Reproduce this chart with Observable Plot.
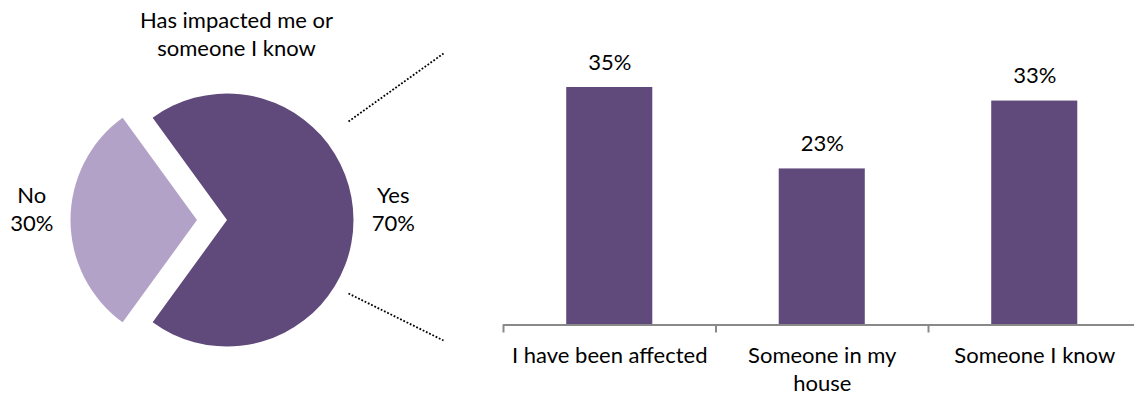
<!DOCTYPE html>
<html>
<head>
<meta charset="utf-8">
<script src="https://cdn.jsdelivr.net/npm/d3@7"></script>
<script src="https://cdn.jsdelivr.net/npm/@observablehq/plot@0.6"></script>
<style>
html, body { margin: 0; padding: 0; background: #fff; }
#chart { position: relative; width: 1134px; height: 396px; overflow: hidden; }
#chart svg { position: absolute; left: 0; top: 0; }
</style>
</head>
<body>
<div id="chart"></div>
<script>
// ---- data ----
const pieLabels = ["Yes", "No"];
const pieValues = [70, 30];
const pieTitle = "Has impacted me or\nsomeone I know";
const barCategories = ["I have been affected", "Someone in my\nhouse", "Someone I know"];
const barValues = [35, 23, 33];

// ---- style / layout ----
const DARK = "#604a7b", LIGHT = "#b3a2c7";
const FONT = "Lato, 'Open Sans', sans-serif";
const FS = 22;
const LH = 1.27;

// pie geometry
const cx = 227, cy = 220, R = 126.5, EXPLODE = 30, LABEL_R = 1.31;
const arcs = d3.pie().sort(null).startAngle(-0.2 * Math.PI).endAngle(1.8 * Math.PI)(pieValues);
const slices = arcs.map((a, i) => {
  const mid = (a.startAngle + a.endAngle) / 2;
  const off = i === 1 ? EXPLODE : 0;
  const ox = cx + off * Math.sin(mid), oy = cy - off * Math.cos(mid);
  return {
    label: pieLabels[i], value: pieValues[i], arc: a, ox, oy,
    lx: ox + LABEL_R * R * Math.sin(mid), ly: oy - LABEL_R * R * Math.cos(mid),
    fill: i === 0 ? DARK : LIGHT
  };
});
const pieMark = () => {
  const g = d3.create("svg:g");
  const arcGen = d3.arc().innerRadius(0).outerRadius(R);
  g.selectAll("path").data(slices).join("path")
    .attr("transform", d => `translate(${d.ox},${d.oy})`)
    .attr("d", d => arcGen(d.arc))
    .attr("fill", d => d.fill);
  return g.node();
};
const connectors = [
  {x1: 348, y1: 121, x2: 443, y2: 53},
  {x1: 348, y1: 293, x2: 443, y2: 340}
];

const pie = Plot.plot({
  width: 450, height: 396,
  x: {type: "identity", axis: null}, y: {type: "identity", axis: null},
  style: {fontFamily: FONT, fontSize: FS + "px", background: "transparent", color: "#000"},
  marks: [
    pieMark,
    Plot.text(slices, {x: "lx", y: "ly", text: d => `${d.label}\n${d.value}%`, dy: -12, lineHeight: LH, fontSize: FS, fill: "#000"}),
    Plot.text([pieTitle], {x: 236, y: 8, text: d => d, lineAnchor: "top", lineHeight: LH, fontSize: FS, fill: "#000"}),
    Plot.link(connectors, {x1: "x1", y1: "y1", x2: "x2", y2: "y2", stroke: "#000", strokeWidth: 1.8, strokeDasharray: "1.8,1.8"})
  ]
});

// bar chart
const barData = barCategories.map((c, i) => ({c, i, v: barValues[i]}));
const y0 = 324.5, yTop = 87;
const k = (y0 - yTop) / d3.max(barValues);
const bar = Plot.plot({
  width: 1134, height: 396,
  marginLeft: 503, marginRight: 0, marginTop: 0, marginBottom: 396 - y0,
  x: {domain: [0, barCategories.length], range: [503, 1140.5], axis: null},
  y: {domain: [0, d3.max(barValues)], range: [y0, yTop], axis: null},
  style: {fontFamily: FONT, fontSize: FS + "px", background: "transparent", color: "#000"},
  marks: [
    Plot.rectY(barData, {x1: d => d.i + 0.2975, x2: d => d.i + 0.7025, y: "v", fill: DARK, inset: 0}),
    Plot.ruleY([0], {stroke: "#898989", strokeWidth: 2}),
    Plot.ruleX(d3.range(barCategories.length + 1), {y1: 0, y2: -8 / k, stroke: "#898989", strokeWidth: 2}),
    Plot.text(barData, {x: d => d.i + 0.5, y: "v", text: d => `${d.v}%`, lineAnchor: "bottom", dy: -18, fontSize: FS, fill: "#000"}),
    Plot.text(barData, {x: d => d.i + 0.5, y: 0, text: "c", lineAnchor: "top", dy: 18.5, lineHeight: LH, fontSize: FS, fill: "#000"})
  ]
});

const chart = document.getElementById("chart");
chart.appendChild(bar);
chart.appendChild(pie);
</script>
</body>
</html>
